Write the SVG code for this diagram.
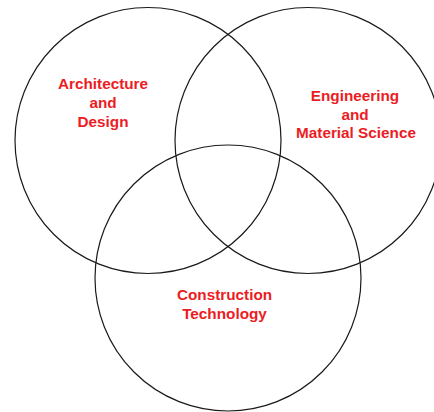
<svg xmlns="http://www.w3.org/2000/svg" width="434" height="412" viewBox="0 0 434 412">
<style>
.c{fill:none;stroke:#1a1a1a;stroke-width:1.2}
.t{font-family:"Liberation Sans",Arial,sans-serif;font-weight:bold;font-size:15.3px;fill:#ec1c24;text-anchor:middle}
</style>
<rect width="434" height="412" fill="#fff"/>
<g id="arch">
<circle class="c" cx="148" cy="140.5" r="133"/>
<text class="t" x="103" y="88.5">Architecture</text>
<text class="t" x="103" y="107.5">and</text>
<text class="t" x="103" y="126.5">Design</text>
</g>
<g id="eng">
<circle class="c" cx="308" cy="140.5" r="133"/>
<text class="t" x="355" y="100.5">Engineering</text>
<text class="t" x="355" y="119.5">and</text>
<text class="t" x="356" y="138">Material Science</text>
</g>
<g id="cons">
<circle class="c" cx="228" cy="278" r="133"/>
<text class="t" x="224.5" y="299.5">Construction</text>
<text class="t" x="224.5" y="318.5">Technology</text>
</g>
<g id="connectors"></g>
</svg>
